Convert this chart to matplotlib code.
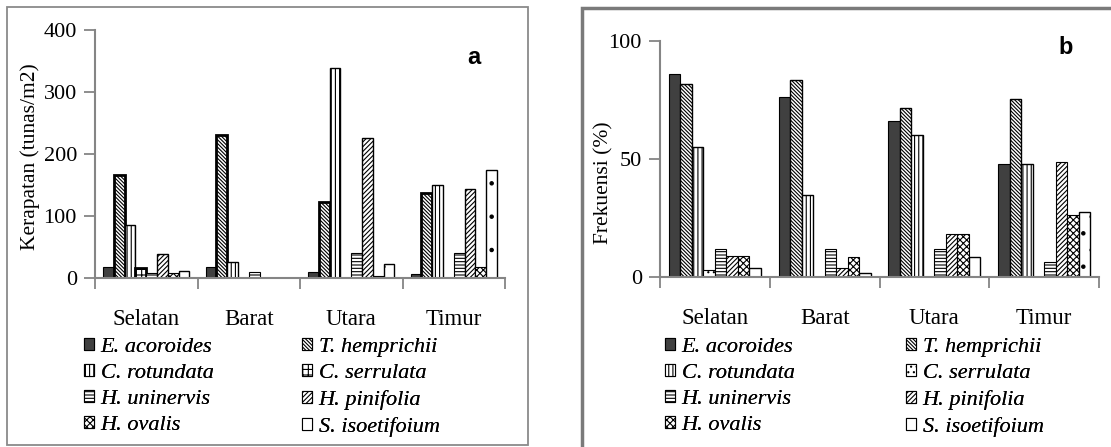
import numpy as np
import matplotlib
matplotlib.use("Agg")
import matplotlib.pyplot as plt
from matplotlib.patches import Patch, Rectangle

plt.rcParams['font.family'] = ['Liberation Serif', 'DejaVu Serif']
plt.rcParams['hatch.linewidth'] = 0.8

# data
sites = ['Selatan', 'Barat', 'Utara', 'Timur']
species = ['E. acoroides', 'T. hemprichii', 'C. rotundata', 'C. serrulata',
           'H. uninervis', 'H. pinifolia', 'H. ovalis', 'S. isoetifoium']

# panel a: kerapatan (tunas/m2), one list per species, values for the 4 sites
dens_E = [17, 17, 9, 7]
dens_T = [166, 231, 122, 137]
dens_Cr = [86, 26, 338, 150]
dens_Cs = [16, 0, 0, 0]
dens_Hu = [8, 10, 41, 41]
dens_Hp = [39, 0, 226, 143]
dens_Ho = [8, 0, 4, 18]
dens_Si = [11, 0, 23, 175]

# panel b: frekuensi (%)
freq_E = [86, 76, 66, 48]
freq_T = [81.5, 83.5, 71.5, 75.5]
freq_Cr = [55, 34.5, 60, 48]
freq_Cs = [3, 0, 0, 0]
freq_Hu = [11.7, 11.7, 11.7, 6.3]
freq_Hp = [9, 3.7, 18, 48.5]
freq_Ho = [9, 8.3, 18, 26.3]
freq_Si = [4, 1.5, 8.3, 27.3]

density = [dens_E, dens_T, dens_Cr, dens_Cs, dens_Hu, dens_Hp, dens_Ho, dens_Si]
frequency = [freq_E, freq_T, freq_Cr, freq_Cs, freq_Hu, freq_Hp, freq_Ho, freq_Si]

# bar looks: (facecolor, hatch, edge width)
styles_a = [('#404040', None, 0.8), ('white', '\\' * 9, 2.0), ('white', '||||', 1.0),
            ('white', '+++', 2.0), ('white', '-----', 0.8), ('white', '/' * 7, 1.0),
            ('white', 'xxxxx', 0.8), ('white', '.', 1.0)]
styles_b = [('#404040', None, 0.8), ('white', '\\' * 9, 1.0), ('white', '||||', 1.0),
            ('white', '...', 0.8), ('white', '-----', 0.8), ('white', '/' * 7, 0.8),
            ('white', 'xxxxx', 0.8), ('white', '.', 1.0)]

W, H = 1111, 447
fig = plt.figure(figsize=(W / 100, H / 100), dpi=100)
grey = '#858585'


def px_axes(x0, x1, ytop, ybot):
    return fig.add_axes([x0 / W, (H - ybot) / H, (x1 - x0) / W, (ybot - ytop) / H])


def draw_panel(ax, values, styles, ymax, yticks, ylabel, letter, letter_xy, lab_xy, leg_xs):
    x = np.arange(len(sites))
    n = len(species)
    bw = 0.105
    handles = []
    for i, (vals, (fc, hatch, lw)) in enumerate(zip(values, styles)):
        off = (i - (n - 1) / 2) * bw
        ax.bar(x + off, vals, bw, color=fc, hatch=hatch, edgecolor='black', linewidth=lw)
        handles.append(Patch(facecolor=fc, hatch=hatch, edgecolor='black', linewidth=0.8,
                             label=species[i]))
    ax.set_xlim(-0.5, len(sites) - 0.5)
    ax.set_ylim(0, ymax)
    ax.set_yticks(yticks)
    ax.set_xticks(x)
    ax.set_xticklabels(sites, fontsize=16.5)
    ax.set_xticks(np.arange(len(sites) + 1) - 0.5, minor=True)
    ax.tick_params(axis='x', which='major', length=0, pad=22)
    ax.tick_params(axis='x', which='minor', length=8, width=1.3, color=grey, direction='out')
    ax.tick_params(axis='y', labelsize=16, length=8, width=1.3, color=grey, pad=5)
    for s in ['top', 'right']:
        ax.spines[s].set_visible(False)
    for s in ['left', 'bottom']:
        ax.spines[s].set_color(grey)
        ax.spines[s].set_linewidth(1.5)
    ax.set_ylabel(ylabel, fontsize=15.5)
    ax.yaxis.set_label_coords(*lab_xy)
    ax.text(*letter_xy, letter, transform=ax.transAxes, fontsize=17, fontweight='bold',
            family='Liberation Sans', ha='center', va='center')
    # legend is row-major in the picture: left column gets the even entries
    for col, lx in enumerate(leg_xs):
        idx = range(col, len(species), 2)
        leg = fig.legend([handles[k] for k in idx], [species[k] for k in idx],
                         loc='upper left', bbox_to_anchor=(lx / W, (H - 338) / H),
                         frameon=False, handlelength=0.45, handleheight=0.45, handletextpad=0.3,
                         labelspacing=0.32, borderaxespad=0, borderpad=0,
                         prop={'family': 'Liberation Serif', 'style': 'italic', 'size': 16})
        fig.add_artist(leg)


ax_a = px_axes(95, 505, 30, 278)
draw_panel(ax_a, density, styles_a, 400, [0, 100, 200, 300, 400],
           'Kerapatan (tunas/m2)', 'a', (0.924, 0.89), (-0.135, 0.49), (84, 302))

ax_b = px_axes(660, 1099, 40.7, 277)
draw_panel(ax_b, frequency, styles_b, 100, [0, 50, 100],
           'Frekuensi (%)', 'b', (0.925, 0.97), (-0.105, 0.40), (665, 906))

# outer frames around each panel
fig.patches.append(Rectangle((7 / W, (H - 445) / H), 521 / W, 438 / H, transform=fig.transFigure,
                             fill=False, edgecolor='#8a8a8a', linewidth=1.3))
fig.patches.append(Rectangle((582 / W, -0.02), 0.5, (H - 8) / H + 0.02, transform=fig.transFigure,
                             fill=False, edgecolor='#7a7a7a', linewidth=2.5))

fig.savefig('out.png', dpi=100)
